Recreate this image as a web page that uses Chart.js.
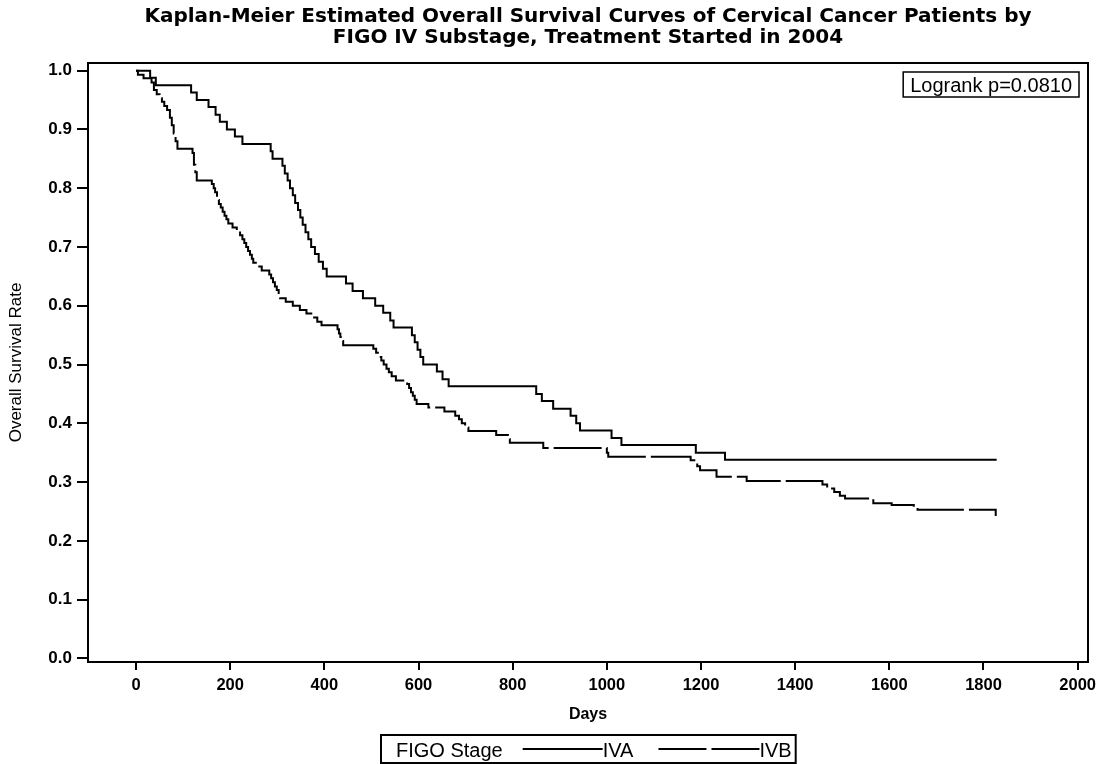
<!DOCTYPE html>
<html>
<head>
<meta charset="utf-8">
<title>Kaplan-Meier Overall Survival by FIGO IV Substage</title>
<script src="https://cdn.jsdelivr.net/npm/chart.js@4.4.0/dist/chart.umd.min.js"></script>
<style>
    html, body { margin: 0; padding: 0; background: #fff; }
    canvas { display: block; }
</style>
</head>
<body>
<canvas id="kmChart" width="1110" height="764"></canvas>
<script>
// step points: day of each drop and survival after it
const ivaDays = [0, 30, 42, 117, 129, 154, 169, 178, 193, 210, 226, 286, 290, 311, 316, 322, 327, 333, 338, 344,
    349, 354, 360, 366, 372, 380, 388, 397, 405, 446, 460, 482, 508, 525, 540, 547, 586, 592, 598, 604,
    610, 639, 651, 664, 850, 862, 886, 923, 935, 943, 1010, 1031, 1189, 1251, 1828];
const ivaSurv = [1.000, 0.988, 0.975, 0.963, 0.950, 0.938, 0.925, 0.913, 0.900, 0.888, 0.875, 0.863, 0.850, 0.838, 0.825, 0.813, 0.800, 0.788, 0.775, 0.763,
    0.750, 0.738, 0.725, 0.713, 0.700, 0.688, 0.675, 0.663, 0.650, 0.638, 0.625, 0.613, 0.600, 0.588, 0.575, 0.563, 0.550, 0.538, 0.525, 0.513,
    0.500, 0.488, 0.475, 0.463, 0.450, 0.438, 0.425, 0.413, 0.400, 0.388, 0.375, 0.363, 0.350, 0.338, 0.338];

const ivbDays = [0, 4, 16, 33, 38, 44, 50, 55, 60, 66, 72, 76, 80, 84, 88, 120, 123, 126, 129, 161,
    165, 168, 172, 176, 180, 184, 188, 192, 196, 205, 214, 221, 226, 230, 234, 238, 242, 246, 249, 258,
    267, 283, 287, 291, 295, 299, 303, 306, 318, 333, 348, 362, 376, 385, 394, 428, 431, 434, 437, 440,
    504, 510, 516, 521, 526, 532, 537, 543, 552, 576, 580, 584, 588, 592, 596, 621, 655, 678, 686, 692,
    699, 706, 765, 790, 794, 865, 1000, 1003, 1178, 1192, 1198, 1233, 1297, 1458, 1468, 1483, 1495, 1506, 1566, 1605,
    1652, 1660, 1826, 1828];
const ivbSurv = [1.000, 0.993, 0.987, 0.980, 0.967, 0.960, 0.953, 0.947, 0.940, 0.933, 0.920, 0.907, 0.893, 0.880, 0.867, 0.860, 0.840, 0.827, 0.813, 0.807,
    0.800, 0.793, 0.780, 0.773, 0.767, 0.760, 0.753, 0.747, 0.740, 0.733, 0.727, 0.720, 0.713, 0.707, 0.700, 0.693, 0.687, 0.680, 0.673, 0.667,
    0.660, 0.653, 0.647, 0.640, 0.633, 0.627, 0.620, 0.613, 0.607, 0.600, 0.593, 0.587, 0.580, 0.573, 0.567, 0.560, 0.553, 0.547, 0.540, 0.533,
    0.527, 0.520, 0.513, 0.507, 0.500, 0.493, 0.487, 0.480, 0.473, 0.467, 0.460, 0.453, 0.447, 0.440, 0.433, 0.427, 0.420, 0.413, 0.407, 0.400,
    0.393, 0.387, 0.380, 0.373, 0.367, 0.358, 0.350, 0.343, 0.337, 0.327, 0.320, 0.309, 0.302, 0.296, 0.289, 0.283, 0.277, 0.272, 0.264, 0.261,
    0.257, 0.253, 0.244, 0.244];

const xTicks = [0, 200, 400, 600, 800, 1000, 1200, 1400, 1600, 1800, 2000];
const yTicks = [0.0, 0.1, 0.2, 0.3, 0.4, 0.5, 0.6, 0.7, 0.8, 0.9, 1.0];
const stageNames = ['IVA', 'IVB'];
const legendTitle = 'FIGO Stage';
const pValueNote = 'Logrank p=0.0810';

const sans = "'Liberation Sans', Arial, sans-serif";

const toPoints = (days, surv) => days.map((d, i) => ({ x: d, y: surv[i] }));

// frame round the plot, the p-value box and the legend box under the axis
const extras = {
    id: 'extras',
    afterDraw(chart) {
        const { ctx, chartArea: a } = chart;
        ctx.save();
        ctx.strokeStyle = '#000';
        ctx.fillStyle = '#000';
        ctx.lineWidth = 2;
        ctx.strokeRect(a.left, a.top, a.right - a.left, a.bottom - a.top);

        // logrank note
        ctx.font = '20px ' + sans;
        ctx.textBaseline = 'alphabetic';
        ctx.textAlign = 'left';
        const pw = ctx.measureText(pValueNote).width;
        const bx = a.right - 9 - (pw + 14);
        ctx.lineWidth = 1.5;
        ctx.strokeRect(bx, a.top + 9, pw + 14, 25);
        ctx.fillText(pValueNote, bx + 7, a.top + 29);

        // legend
        const ds = chart.data.datasets;
        const sampleLen = [80, 101];
        const ly = 749;
        const titleW = ctx.measureText(legendTitle).width;
        const nameW = stageNames.map(n => ctx.measureText(n).width);
        const boxW = 15 + titleW + 20 + sampleLen[0] + nameW[0] + 25 + sampleLen[1] + nameW[1] + 4;
        let x = Math.round((a.left + a.right) / 2 - boxW / 2);
        ctx.lineWidth = 2;
        ctx.strokeRect(x, 735, boxW, 28);
        x += 15;
        ctx.fillText(legendTitle, x, 757);
        x += titleW + 20;
        stageNames.forEach((name, i) => {
            ctx.beginPath();
            ctx.lineWidth = 2;
            ctx.setLineDash(ds[i].borderDash || []);
            ctx.moveTo(x, ly);
            ctx.lineTo(x + sampleLen[i], ly);
            ctx.stroke();
            ctx.setLineDash([]);
            x += sampleLen[i];
            ctx.fillText(name, x, 757);
            x += nameW[i] + 25;
        });
        ctx.restore();
    }
};

new Chart(document.getElementById('kmChart'), {
    type: 'line',
    data: {
        datasets: [{
            label: stageNames[0],
            data: toPoints(ivaDays, ivaSurv),
            borderColor: '#000',
            borderWidth: 2,
            stepped: 'before',
            pointRadius: 0,
            fill: false
        }, {
            label: stageNames[1],
            data: toPoints(ivbDays, ivbSurv),
            borderColor: '#000',
            borderWidth: 2,
            borderDash: [48, 5],
            stepped: 'before',
            pointRadius: 0,
            fill: false
        }]
    },
    options: {
        responsive: false,
        animation: false,
        layout: {
            padding: { left: 0, right: 22, top: 0, bottom: 34 }
        },
        plugins: {
            legend: { display: false },
            tooltip: { enabled: false },
            title: {
                display: true,
                fullSize: false,
                text: ['Kaplan-Meier Estimated Overall Survival Curves of Cervical Cancer Patients by',
                    'FIGO IV Substage, Treatment Started in 2004'],
                color: '#000',
                font: { family: "'DejaVu Sans', sans-serif", size: 20, weight: 'bold', lineHeight: 1.05 },
                padding: { top: 6, bottom: 15 }
            }
        },
        scales: {
            x: {
                type: 'linear',
                min: -102,
                max: 2022,
                afterBuildTicks: (s) => { s.ticks = xTicks.map(v => ({ value: v })); },
                afterFit: (s) => { s.height = 68; },
                border: { display: true, color: '#000', width: 2 },
                grid: { drawOnChartArea: false, drawTicks: true, tickLength: 8, color: '#000', lineWidth: 2 },
                ticks: {
                    color: '#000',
                    font: { family: sans, size: 16.5, weight: 'bold' },
                    padding: 6,
                    maxRotation: 0,
                    autoSkip: false,
                    callback: (v) => String(v)
                },
                title: {
                    display: true,
                    text: 'Days',
                    color: '#000',
                    font: { family: sans, size: 16, weight: 'bold' },
                    padding: { top: 0, bottom: 6 }
                }
            },
            y: {
                type: 'linear',
                min: -0.006,
                max: 1.013,
                afterBuildTicks: (s) => { s.ticks = yTicks.map(v => ({ value: v })); },
                afterFit: (s) => { s.width = 88; },
                border: { display: true, color: '#000', width: 2 },
                grid: { drawOnChartArea: false, drawTicks: true, tickLength: 11, color: '#000', lineWidth: 2 },
                ticks: {
                    color: '#000',
                    font: { family: sans, size: 17, weight: 'bold' },
                    padding: 5,
                    callback: (v) => v.toFixed(1)
                },
                title: {
                    display: true,
                    text: 'Overall Survival Rate',
                    color: '#000',
                    font: { family: sans, size: 17 },
                    padding: { top: 6.5, bottom: 0 }
                }
            }
        }
    },
    plugins: [extras]
});
</script>
</body>
</html>
